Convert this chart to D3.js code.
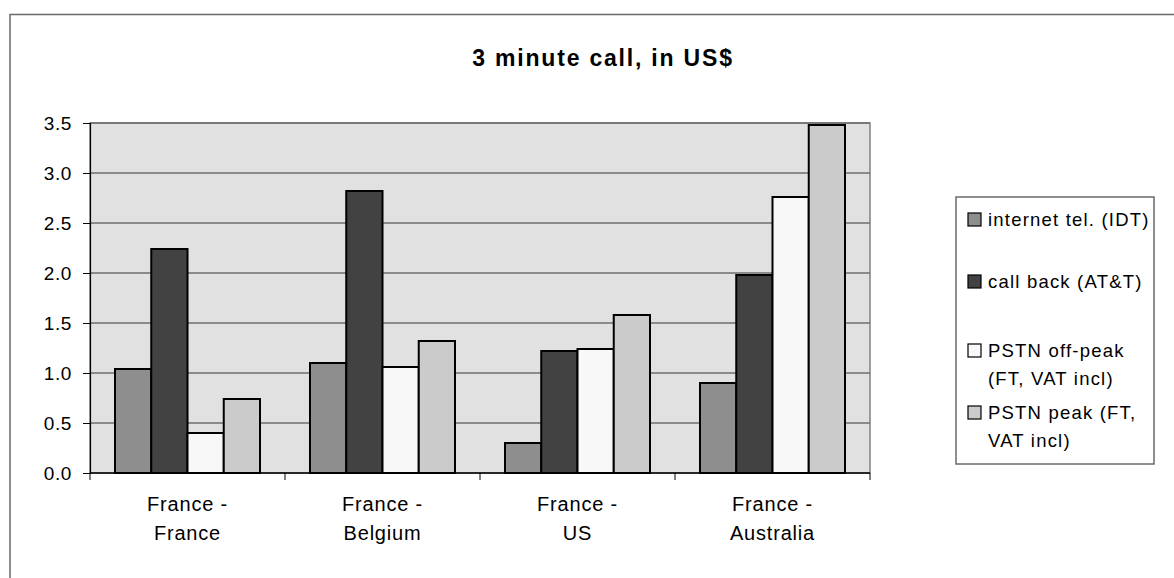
<!DOCTYPE html>
<html>
<head>
<meta charset="utf-8">
<script src="https://cdn.jsdelivr.net/npm/d3@7"></script>
<style>
  body { margin: 0; background: #fff; }
  text { font-family: "Liberation Sans", Arial, sans-serif; fill: #000; }
</style>
</head>
<body>
<div id="chart"></div>
<script>
const categories = [["France -", "France"], ["France -", "Belgium"], ["France -", "US"], ["France -", "Australia"]];
const seriesNames = ["internet tel. (IDT)", "call back (AT&T)", "PSTN off-peak (FT, VAT incl)", "PSTN peak (FT, VAT incl)"];
const internetTel = [1.04, 1.10, 0.30, 0.90];
const callBack = [2.24, 2.82, 1.22, 1.98];
const pstnOffPeak = [0.40, 1.06, 1.24, 2.76];
const pstnPeak = [0.74, 1.32, 1.58, 3.48];
const yTicks = [0, 0.5, 1.0, 1.5, 2.0, 2.5, 3.0, 3.5];

const legendLines = [["internet tel. (IDT)"], ["call back (AT&T)"], ["PSTN off-peak", "(FT, VAT incl)"], ["PSTN peak (FT,", "VAT incl)"]];
const colors = ["#8e8e8e", "#424242", "#f8f8f8", "#cbcbcb"];

const W = 1174, H = 578;
const plot = { left: 90, right: 870, top: 123, bottom: 473 };

const svg = d3.select("#chart").append("svg")
  .attr("width", W)
  .attr("height", H);

// chart area border
svg.append("rect")
  .attr("x", 10).attr("y", 14.5)
  .attr("width", W + 20).attr("height", H + 20)
  .style("fill", "#fff")
  .style("stroke", "#6a6a6a")
  .style("stroke-width", 1.5);

const series = [internetTel, callBack, pstnOffPeak, pstnPeak];
const rows = categories.map((c, i) => ({ cat: i, values: series.map((s, j) => ({ key: j, value: s[i] })) }));

const x0 = d3.scaleBand()
  .domain(d3.range(categories.length))
  .range([plot.left, plot.right]);

const x1 = d3.scaleBand()
  .domain(d3.range(series.length))
  .range([25, x0.bandwidth() - 25]);

const y = d3.scaleLinear()
  .domain([0, 3.5])
  .range([plot.bottom, plot.top]);

// plot background
svg.append("rect")
  .attr("x", plot.left).attr("y", plot.top)
  .attr("width", plot.right - plot.left).attr("height", plot.bottom - plot.top)
  .style("fill", "#e1e1e1")
  .style("stroke", "#808080")
  .style("stroke-width", 1.5);

// gridlines
svg.append("g")
  .selectAll("line")
  .data(yTicks.filter(d => d > 0))
  .enter().append("line")
  .attr("x1", plot.left).attr("x2", plot.right)
  .attr("y1", d => y(d)).attr("y2", d => y(d))
  .style("stroke", "#6e6e6e")
  .style("stroke-width", 1.5);

// bars
const groups = svg.append("g")
  .selectAll("g")
  .data(rows)
  .enter().append("g")
  .attr("transform", d => `translate(${x0(d.cat)},0)`);

groups.selectAll("rect")
  .data(d => d.values)
  .enter().append("rect")
  .attr("x", d => x1(d.key))
  .attr("width", x1.bandwidth())
  .attr("y", d => y(d.value))
  .attr("height", d => y(0) - y(d.value))
  .style("fill", d => colors[d.key])
  .style("stroke", "#000")
  .style("stroke-width", 2);

// y axis
const yAxis = svg.append("g")
  .attr("transform", `translate(${plot.left},0)`)
  .call(d3.axisLeft(y).tickValues(yTicks).tickFormat(d3.format(".1f")).tickSize(7).tickPadding(11));
yAxis.select(".domain").style("stroke", "#000").style("stroke-width", 1.2);
yAxis.selectAll(".tick line").style("stroke", "#000");
yAxis.selectAll("text")
  .style("font-size", "19px")
  .style("letter-spacing", "0.6px")
  .attr("font-family", null);

// x axis
const xAxis = svg.append("g")
  .attr("transform", `translate(0,${plot.bottom})`);
xAxis.append("line")
  .attr("x1", plot.left).attr("x2", plot.right)
  .style("stroke", "#000").style("stroke-width", 1.5);
xAxis.selectAll(".xtick")
  .data(d3.range(categories.length + 1))
  .enter().append("line")
  .attr("x1", d => plot.left + d * x0.bandwidth())
  .attr("x2", d => plot.left + d * x0.bandwidth())
  .attr("y1", 0).attr("y2", 7)
  .style("stroke", "#000");

const xLabels = xAxis.selectAll(".xlabel")
  .data(categories)
  .enter().append("text")
  .attr("text-anchor", "middle")
  .style("font-size", "20px")
  .style("letter-spacing", "0.8px");
xLabels.selectAll("tspan")
  .data((d, i) => d.map(t => ({ t, i })))
  .enter().append("tspan")
  .attr("x", d => x0(d.i) + x0.bandwidth() / 2)
  .attr("y", (d, k) => 38 + k * 29)
  .text(d => d.t);

// title
svg.append("text")
  .attr("x", 603)
  .attr("y", 66)
  .attr("text-anchor", "middle")
  .style("font-size", "23px")
  .style("font-weight", "bold")
  .style("letter-spacing", "1.8px")
  .text("3 minute call, in US$");

// legend
const legend = svg.append("g");
legend.append("rect")
  .attr("x", 956).attr("y", 197)
  .attr("width", 198).attr("height", 267)
  .style("fill", "#fff")
  .style("stroke", "#6a6a6a")
  .style("stroke-width", 1.5);

const legendBase = [226, 288, 357, 419];
const items = legend.selectAll(".item")
  .data(legendLines)
  .enter().append("g");

items.append("rect")
  .attr("x", 968).attr("y", (d, i) => legendBase[i] - 13)
  .attr("width", 13).attr("height", 13)
  .style("fill", (d, i) => colors[i])
  .style("stroke", "#000")
  .style("stroke-width", 1.2);

items.append("text")
  .style("font-size", "18.5px")
  .style("letter-spacing", "1.2px")
  .selectAll("tspan")
  .data((d, i) => d.map(t => ({ t, i })))
  .enter().append("tspan")
  .attr("x", 988)
  .attr("y", (d, k) => legendBase[d.i] + k * 28)
  .text(d => d.t);
</script>
</body>
</html>
